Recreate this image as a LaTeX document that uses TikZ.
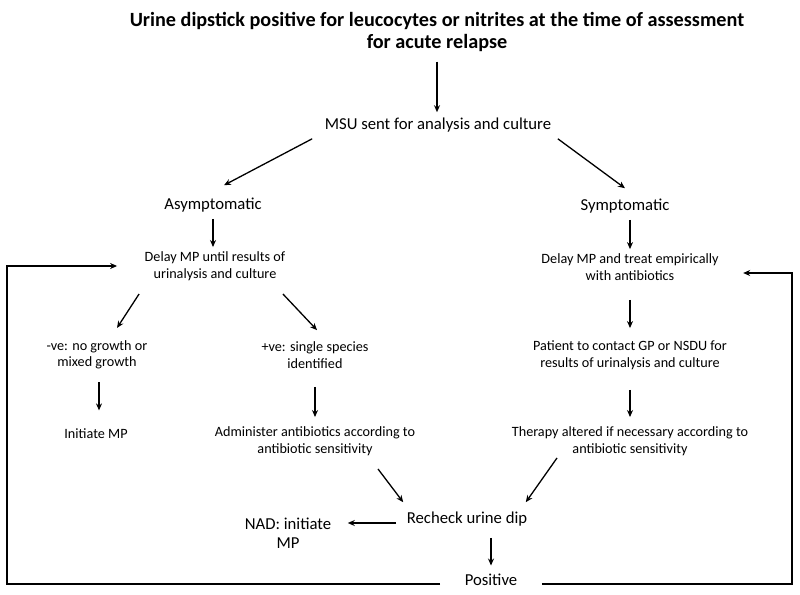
\documentclass[tikz,border=0pt]{standalone}
\usepackage{fontspec}
\setmainfont{Carlito}
\usetikzlibrary{arrows.meta}

\begin{document}
\begin{tikzpicture}[x=1pt,y=-1pt,
    head/.style = {font=\bfseries\fontsize{20.2}{22}\selectfont, align=center},
    big/.style = {font=\fontsize{16.7}{19}\selectfont, align=center, inner sep=2pt},
    small/.style = {font=\fontsize{14.2}{16.5}\selectfont, align=center, inner sep=2pt},
    loop/.style = {line width=2pt},
    line width=1.3pt, >={Stealth[length=7pt,width=6pt]}]
        \useasboundingbox (0,0) rectangle (800,594);
        \node[head] (dip) at (437,32) {Urine dipstick positive for leucocytes or nitrites at the time of assessment\\for acute relapse};
        \node[big] (msu) at (438,125) {MSU sent for analysis and culture};
        \node[big] (asym) at (213,205) {Asymptomatic};
        \node[big] (sym) at (625,206) {Symptomatic};
        \node[small] (delayA) at (215,266) {Delay MP until results of\\urinalysis and culture};
        \node[small] (delayS) at (630,267) {Delay MP and treat empirically\\with antibiotics};
        \node[small] (neg) at (97,355) {-ve: no growth or\\mixed growth};
        \node[small] (pos) at (315,355) {+ve: single species\\identified};
        \node[small] (init) at (96,434) {Initiate MP};
        \node[small] (admin) at (315,441) {Administer antibiotics according to\\antibiotic sensitivity};
        \node[small] (contact) at (630,355) {Patient to contact GP or NSDU for\\results of urinalysis and culture};
        \node[small] (therapy) at (630,441) {Therapy altered if necessary according to\\antibiotic sensitivity};
        \node[big] (recheck) at (467,519) {Recheck urine dip};
        \node[big] (nad) at (288,533) {NAD: initiate\\MP};
        \node[big, inner xsep=24pt] (positive) at (491,580) {Positive};
        \coordinate (loopL) at (7,584);
        \coordinate (loopR) at (792,584);
        % main column
        \draw[->, shorten <=6pt, shorten >=3pt] (dip) -- (dip |- msu.north);
        \draw[->] ([xshift=-10pt,yshift=-4pt]msu.south west) -- ([xshift=11pt,yshift=10pt]asym.north);
        \draw[->] ([xshift=4pt,yshift=-4pt]msu.south east) -- ([yshift=8pt]sym.north);
        \draw[->, shorten <=4pt, shorten >=2pt] (asym) -- (asym |- delayA.north);
        \draw[->, shorten <=4pt, shorten >=2pt] (delayS.north |- sym.south) -- (delayS.north);
        % asymptomatic side
        \draw[->] ([xshift=-3pt,yshift=-11pt]delayA.south west) -- ([xshift=20pt,yshift=10pt]neg.north);
        \draw[->] ([xshift=-5pt,yshift=-11pt]delayA.south east) -- ([xshift=2pt,yshift=9pt]pos.north);
        \draw[->, shorten <=10pt, shorten >=16pt] ([xshift=2pt]neg.south) -- ([xshift=2pt]neg.south |- init.north);
        \draw[->, shorten <=16pt, shorten >=7pt] (pos) -- (pos |- admin.north);
        % symptomatic side
        \draw[->, shorten <=17pt, shorten >=10pt] (delayS) -- (delayS |- contact.north);
        \draw[->, shorten <=18pt, shorten >=7pt] (contact) -- (contact |- therapy.north);
        % recheck
        \draw[->] ([xshift=63pt,yshift=-11pt]admin.south) -- ([xshift=-1pt,yshift=7pt]recheck.north west);
        \draw[->] ([xshift=-73pt]therapy.south) -- ([xshift=-4pt,yshift=7pt]recheck.north east);
        \draw[->] ([xshift=-8pt,yshift=-4pt]recheck.west) -- ([xshift=14pt,yshift=10pt]nad.east);
        \draw[->, shorten <=9pt, shorten >=6pt] (positive.north |- recheck.south) -- (positive.north);
        % loops back
        \draw[->, loop, shorten >=25pt] (loopL -| positive.west) -- (loopL) |- (delayA.west);
        \draw[->, loop, shorten >=22pt] (loopR -| positive.east) -- (loopR) |- ([yshift=-6pt]delayS.east);
\end{tikzpicture}
\end{document}
